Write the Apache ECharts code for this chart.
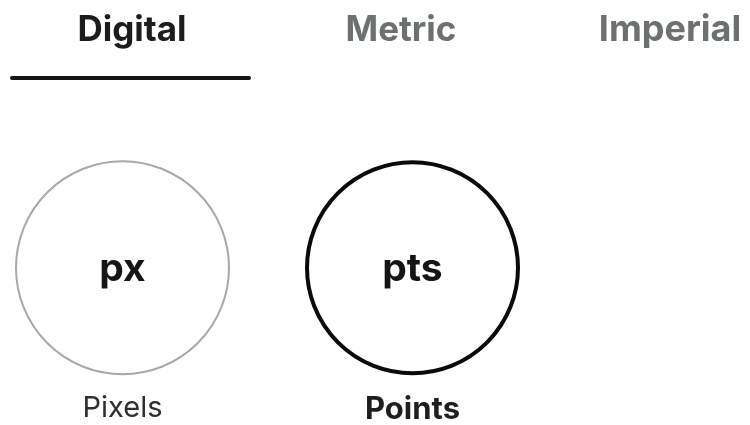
<!DOCTYPE html>
<html>
<head>
<meta charset="utf-8">
<script src="https://cdn.jsdelivr.net/npm/echarts@6/dist/echarts.min.js"></script>
<style>html,body{margin:0;padding:0;background:#fff}#c{width:750px;height:425px}</style>
</head>
<body>
<div id="c"></div>
<script>
var tabs = ['Digital', 'Metric', 'Imperial'];
var selectedTab = 0;
var units = ['px', 'pts'];
var unitNames = ['Pixels', 'Points'];
var selectedUnit = 1;
var unitValues = [0.5, 0.5];

var FONT = 'Inter, "Noto Sans", sans-serif';
var chart = echarts.init(document.getElementById('c'), null, {renderer: 'canvas'});

var tabW = 269, tabX0 = 132;
var graphics = tabs.map(function (t, i) {
  return {
    type: 'text', x: tabX0 + i * tabW, y: 30,
    style: {
      text: t, align: 'center', verticalAlign: 'middle',
      font: 'bold ' + (i === 2 ? 36 : 35) + 'px ' + FONT,
      fill: i === selectedTab ? '#1c1c1c' : '#6d7070'
    }
  };
});
graphics.push({
  type: 'line',
  shape: {x1: 12, y1: 78, x2: 249, y2: 78},
  style: {stroke: '#151515', lineWidth: 4, lineCap: 'round'}
});

chart.setOption({
  animation: false,
  backgroundColor: '#ffffff',
  graphic: graphics,
  grid: {left: 122.5, right: 337.5, top: 171.5, height: 200},
  xAxis: {
    type: 'category', data: unitNames, boundaryGap: false,
    axisLine: {show: false}, axisTick: {show: false}, splitLine: {show: false},
    axisLabel: {
      margin: 30,
      formatter: function (v, i) { return (i === selectedUnit ? '{b|' : '{n|') + v + '}'; },
      rich: {
        n: {fontFamily: FONT, fontSize: 29, color: '#2e2e2e'},
        b: {fontFamily: FONT, fontSize: 31, fontWeight: 'bold', color: '#1e1e1e'}
      }
    }
  },
  yAxis: {type: 'value', min: 0, max: 1, show: false},
  series: [{
    type: 'scatter',
    data: unitValues.map(function (v, i) {
      var sel = i === selectedUnit;
      return {
        value: v,
        symbolSize: sel ? 211 : 213,
        itemStyle: {opacity: 1, color: '#ffffff', borderColor: sel ? '#0a0a0a' : '#a3aaa8', borderWidth: sel ? 4 : 2}
      };
    }),
    symbol: 'circle',
    itemStyle: {opacity: 1},
    label: {
      show: true, position: 'inside', offset: [0, 2],
      formatter: function (p) { return units[p.dataIndex]; },
      fontFamily: FONT, fontWeight: 'bold', fontSize: 39, color: '#151515'
    },
    emphasis: {disabled: true}
  }]
});
</script>
</body>
</html>
